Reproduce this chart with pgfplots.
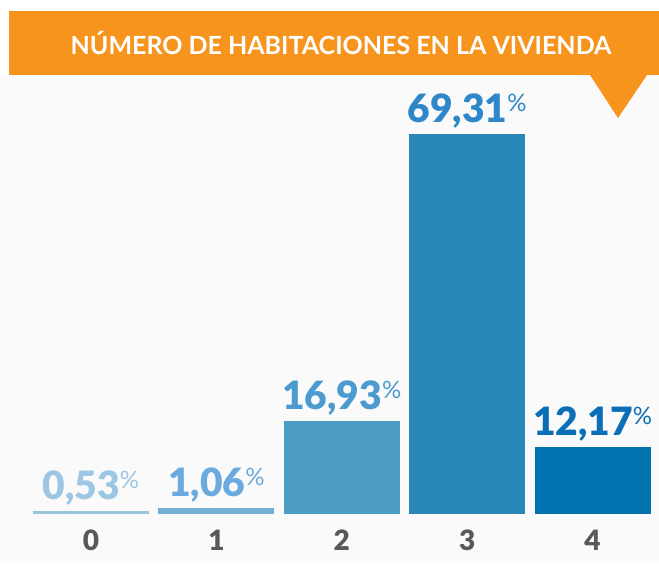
\documentclass[border=0pt]{standalone}
\usepackage{fontspec}
\setmainfont{Lato}[BoldFont={Lato Black}]
\newfontfamily\titlefont{Lato}
\usepackage{pgfplots}
\pgfplotsset{compat=1.18}
\usetikzlibrary{backgrounds}

\definecolor{banner}{HTML}{F7941D}
\definecolor{bgpanel}{HTML}{FAFAFA}
\definecolor{tickgray}{HTML}{595959}
% bar fills
\definecolor{b0}{HTML}{98C4DD}
\definecolor{b1}{HTML}{70B0D3}
\definecolor{b2}{HTML}{4C9CC6}
\definecolor{b3}{HTML}{2A88B8}
\definecolor{b4}{HTML}{0073AE}
% label colours
\definecolor{l0}{HTML}{9CC6E4}
\definecolor{l1}{HTML}{6AAADE}
\definecolor{l2}{HTML}{4B9BD0}
\definecolor{l3}{HTML}{2D87C8}
\definecolor{l4}{HTML}{0B6FB8}

\newcommand{\pct}{\raisebox{11pt}{\fontsize{24}{24}\selectfont\mdseries\%}}

\begin{document}
\begin{tikzpicture}
\begin{axis}[
    scale only axis,
    width=659pt, height=563pt,
    xmin=-0.7258, xmax=4.530,
    ymin=-8.942, ymax=93.80,
    ybar,
    bar width=116pt,
    axis line style={draw=none},
    major tick length=0pt,
    ytick=\empty,
    xtick={0,1,2,3,4},
    xticklabels={0,1,2,3,4},
    xticklabel style={font=\fontsize{28}{28}\selectfont\bfseries,
        text=tickgray, anchor=center, yshift=23pt},
    point meta=explicit symbolic,
    nodes near coords={\pgfplotspointmeta\pct},
    every node near coord/.append style={
        font=\fontsize{39}{39}\selectfont\bfseries,
        anchor=south, inner sep=2pt, yshift=4pt},
]
\addplot[fill=b0, draw=none, bar shift=0pt,
    every node near coord/.append style={text=l0}]
    coordinates {(0,0.53) [0,53]};
\addplot[fill=b1, draw=none, bar shift=0pt,
    every node near coord/.append style={text=l1}]
    coordinates {(1,1.06) [1,06]};
\addplot[fill=b2, draw=none, bar shift=0pt,
    every node near coord/.append style={text=l2}]
    coordinates {(2,16.93) [16,93]};
\addplot[fill=b3, draw=none, bar shift=0pt,
    every node near coord/.append style={text=l3}]
    coordinates {(3,69.31) [69,31]};
\addplot[fill=b4, draw=none, bar shift=0pt,
    every node near coord/.append style={text=l4}]
    coordinates {(4,12.17) [12,17]};
\end{axis}

% panel and orange title banner, in pixel units from the axis corner
\begin{scope}[on background layer, shift={(current axis.south west)}, x=1pt, y=1pt]
\fill[white] (0,0) rectangle (659,563);
\fill[bgpanel] (0,0) rectangle (659,488);
\end{scope}
\begin{scope}[shift={(current axis.south west)}, x=1pt, y=1pt]
\fill[banner] (9,487.5) rectangle (659,552);
\fill[banner] (590,488) -- (647,488) -- (618,445) -- cycle;
\node[white, font=\fontsize{25}{25}\selectfont\titlefont\bfseries] at (341,520)
    {NÚMERO DE HABITACIONES EN LA VIVIENDA};
\end{scope}

\pgfresetboundingbox
\path[use as bounding box] (current axis.south west) rectangle (current axis.north east);
\end{tikzpicture}
\end{document}
